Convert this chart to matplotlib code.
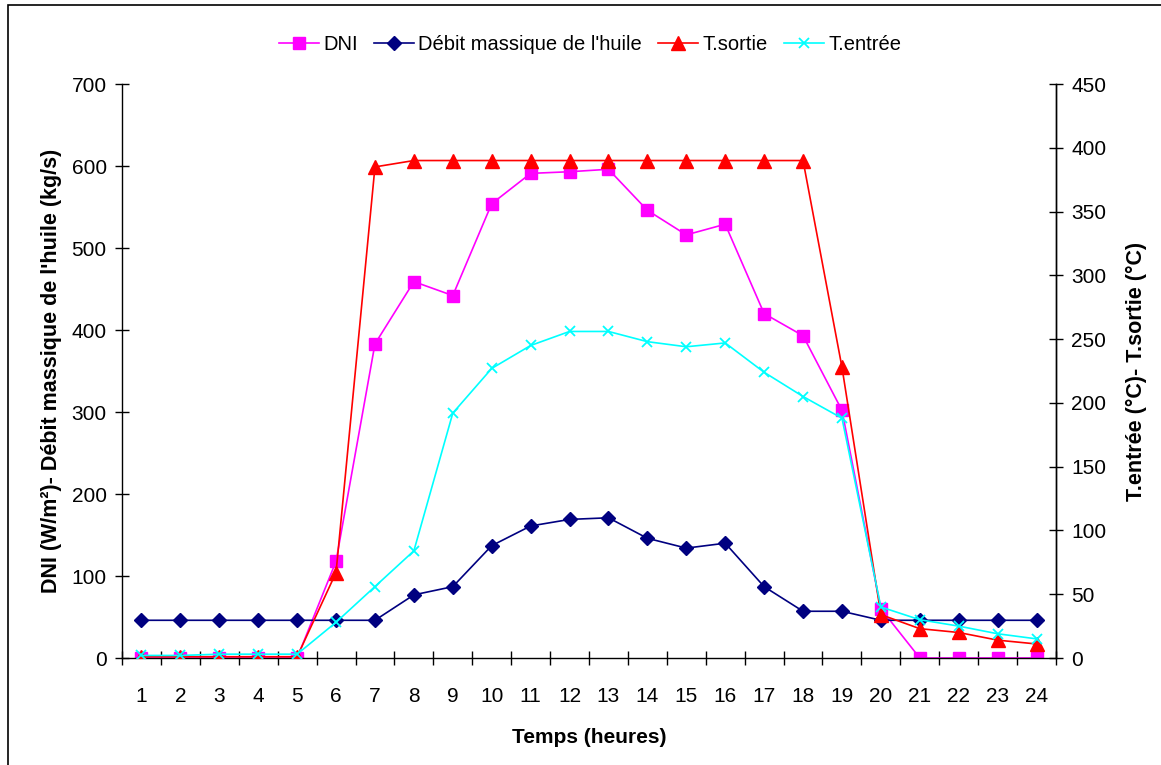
import numpy as np
import matplotlib.pyplot as plt
from matplotlib.patches import Rectangle

plt.rcParams['font.family'] = ['Liberation Sans', 'DejaVu Sans']

# data
hours = list(range(1, 25))
dni = [0, 0, 0, 0, 0, 118, 383, 459, 442, 554, 591, 593, 596, 546,
       516, 529, 420, 393, 302, 60, 0, 0, 0, 0]
debit = [46, 46, 46, 46, 46, 46, 46, 77, 87, 137, 161, 169, 171, 146,
         134, 140, 87, 57, 57, 46, 46, 46, 46, 46]
t_sortie = [1, 1, 1, 1, 1, 67, 385, 390, 390, 390, 390, 390, 390, 390,
            390, 390, 390, 390, 228, 34, 23, 20, 14, 11]
t_entree = [2, 2, 3, 3, 3, 28, 56, 84, 192, 227, 245, 256, 256, 248,
            244, 247, 224, 205, 188, 40, 30, 25, 19, 15]

fig = plt.figure(figsize=(11.61, 7.65), dpi=100)
ax = fig.add_axes([122/1161, 1-658/765, (1056-122)/1161, (658-84)/765])
ax2 = ax.twinx()

lw = 1.2
l1, = ax.plot(hours, dni, color='#FF00FF', marker='s', markersize=8, lw=lw, label='DNI')
l2, = ax.plot(hours, debit, color='#000080', marker='D', markersize=7, lw=lw,
              label="Débit massique de l'huile")
l3, = ax2.plot(hours, t_sortie, color='#FF0000', marker='^', markersize=9.5, lw=lw,
               label='T.sortie')
l4, = ax2.plot(hours, t_entree, color='#00FFFF', marker='x', markersize=7, lw=lw,
               markeredgewidth=1.3, label='T.entrée')

fs = 15
ax.set_xlim(0.5, 24.5)
ax.set_ylim(0, 700)
ax2.set_ylim(0, 450)
ax.set_yticks(np.arange(0, 701, 100))
ax2.set_yticks(np.arange(0, 451, 50))
ax.set_xticks(hours)
ax.set_xticks(np.arange(0.5, 25, 1), minor=True)
ax.tick_params(axis='x', which='major', length=0, labelsize=fs, pad=21)
ax.tick_params(axis='x', which='minor', direction='inout', length=10, width=1)
ax.tick_params(axis='y', direction='inout', length=10, width=1, labelsize=fs, pad=6)
ax2.tick_params(axis='y', direction='inout', length=10, width=1, labelsize=fs, pad=6)

for a in (ax, ax2):
    a.spines['top'].set_visible(False)
    for s in a.spines.values():
        s.set_linewidth(1)
ax2.spines['left'].set_visible(False)
ax2.spines['bottom'].set_visible(False)

ax.set_xlabel('Temps (heures)', fontsize=fs, fontweight='bold', labelpad=16)
ax.set_ylabel("DNI (W/m²)- Débit massique de l'huile (kg/s)", fontsize=15.5,
              fontweight='bold', labelpad=7)
ax2.set_ylabel('T.entrée (°C)- T.sortie (°C)', fontsize=15.5, fontweight='bold',
               labelpad=14)

fig.legend(handles=[l1, l2, l3, l4], loc='center', bbox_to_anchor=(590/1161, 1-45/765),
           ncol=4, frameon=False, fontsize=14.5, handlelength=2.0, columnspacing=0.8,
           handletextpad=0.2)

fig.patches.append(Rectangle((8/1161, -0.02), 1.02, 1.02-5/765,
                             transform=fig.transFigure, fill=False,
                             edgecolor='black', lw=1.2, clip_on=False))

fig.savefig('out.png', dpi=100)
